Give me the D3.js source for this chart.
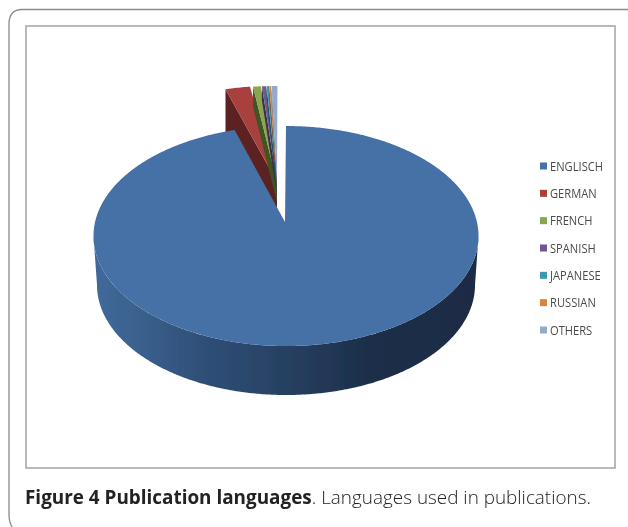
<!DOCTYPE html>
<html><head><meta charset="utf-8">
<script src="https://cdn.jsdelivr.net/npm/d3@7"></script>
<style>html,body{margin:0;padding:0;background:#fff;overflow:hidden}svg{display:block}</style>
</head><body><svg id="c" width="628" height="527"></svg>
<script>
const categories = ["ENGLISCH","GERMAN","FRENCH","SPANISH","JAPANESE","RUSSIAN","OTHERS"];
const shares = [95.7,2.3,0.72,0.37,0.22,0.15,0.54];
const topColors = ["#4471A6","#A8403E","#89A54E","#71588F","#4198AF","#DB843D","#93A9CF"];
const wallColors = ["#2c4a70","#5c2321","#3f5520","#3d2f4e","#24525f","#774720","#4f5c70"];
const captionBold = "Figure 4 Publication languages";
const captionRest = ". Languages used in publications.";

const svg = d3.select("#c");
const cx=286, cy=236, rx=192.5, ry=110, apexLift=14;
const bx=286, by=285, brx=189, bry=110;
const liftX=-8, liftY=-40, backScale=0.896, spread=36;
const wallDepth=[50,50,20,14,12,10,10];
const rad=d=>d*Math.PI/180;

const color=d3.scaleOrdinal(categories,topColors);
const wall=d3.scaleOrdinal(categories,wallColors);
const arcs=d3.pie().sort(null).value(d=>d)(shares).map((a,i)=>({...a,name:categories[i],i}));
const line=d3.line();
const sampled=(a,b,f)=>{const n=Math.max(2,Math.ceil(Math.abs(b-a)/0.01));return d3.range(n+1).map(k=>f(a+(b-a)*k/n));};

const defs=svg.append("defs");
const grad=defs.append("linearGradient").attr("id","wallGrad").attr("gradientUnits","userSpaceOnUse")
  .attr("x1",94).attr("x2",479).attr("y1",0).attr("y2",0);
[[0,"#41699a"],[0.1,"#3c6290"],[0.27,"#305079"],[0.5,"#274062"],[0.72,"#1b2e48"],[1,"#1a2c44"]]
  .forEach(([o,c])=>grad.append("stop").attr("offset",o).attr("stop-color",c));
defs.append("filter").attr("id","soft").append("feGaussianBlur").attr("stdDeviation",0.45);
defs.append("filter").attr("id","softText").append("feGaussianBlur").attr("stdDeviation",0.3);

// frames
svg.append("path").attr("d","M628,9.5 H22 Q9,9.5 9,24 V514 Q9,522 12,527").attr("fill","none").attr("stroke","#8a8a8a").attr("stroke-width",1.3);
svg.append("rect").attr("x",26).attr("y",26).attr("width",589).attr("height",442).attr("fill","#fff").attr("stroke","#a9a9a9").attr("stroke-width",1.6);

const g=svg.append("g").attr("filter","url(#soft)");
// small exploded slices, drawn behind the main slice
const back=t=>2*Math.PI-(2*Math.PI-t)*backScale;
arcs.slice(1).forEach(a=>{
  const s=back(a.startAngle), e=back(a.endAngle);
  const dx=liftX+spread*Math.sin((s+e)/2);
  const pt=t=>[cx+dx+rx*Math.sin(t), cy+liftY-ry*Math.cos(t)];
  const apex=[cx-1+liftX, cy-apexLift+liftY];
  const d=wallDepth[a.i];
  const o=pt(s);
  g.append("path").attr("fill",wall(a.name))
    .attr("d",line([o,[o[0],o[1]+d],[apex[0],apex[1]+d],apex])+"Z");
  g.append("path").attr("fill",color(a.name))
    .attr("d",line([apex,...sampled(s,e,pt)])+"Z");
});
// main slice wall and top
const main=arcs[0];
const wallTop=sampled(rad(90),rad(270),t=>[cx+rx*Math.sin(t),cy-ry*Math.cos(t)]);
const wallBot=sampled(rad(270),rad(90),t=>[bx+brx*Math.sin(t),by-bry*Math.cos(t)]);
g.append("path").attr("fill","url(#wallGrad)").attr("d",line([...wallTop,...wallBot])+"Z");
g.append("path").attr("fill",color(main.name))
  .attr("d",line([[cx-1,cy-apexLift],...sampled(main.startAngle,main.endAngle,t=>[cx+rx*Math.sin(t),cy-ry*Math.cos(t)])])+"Z");

// legend
const ly=d3.scalePoint(categories,[166,330]);
const leg=svg.append("g").attr("filter","url(#softText)").selectAll("g").data(categories).join("g").attr("transform",d=>`translate(540,${ly(d)})`);
leg.append("rect").attr("x",0).attr("y",-3.5).attr("width",7).attr("height",7).attr("fill",d=>color(d));
leg.append("text").attr("transform","translate(10,4.5) scale(0.93,1)").attr("font-family","'Open Sans',sans-serif").attr("font-size",12).attr("fill","#4a4a4a").text(d=>d);

// caption
const cap=svg.append("text").attr("x",25).attr("y",504).attr("font-family","'Open Sans',sans-serif").attr("font-size",18.9).attr("fill","#222").attr("filter","url(#softText)");
cap.append("tspan").attr("font-weight",700).text(captionBold);
cap.append("tspan").attr("font-weight",300).text(captionRest);
</script></body></html>
